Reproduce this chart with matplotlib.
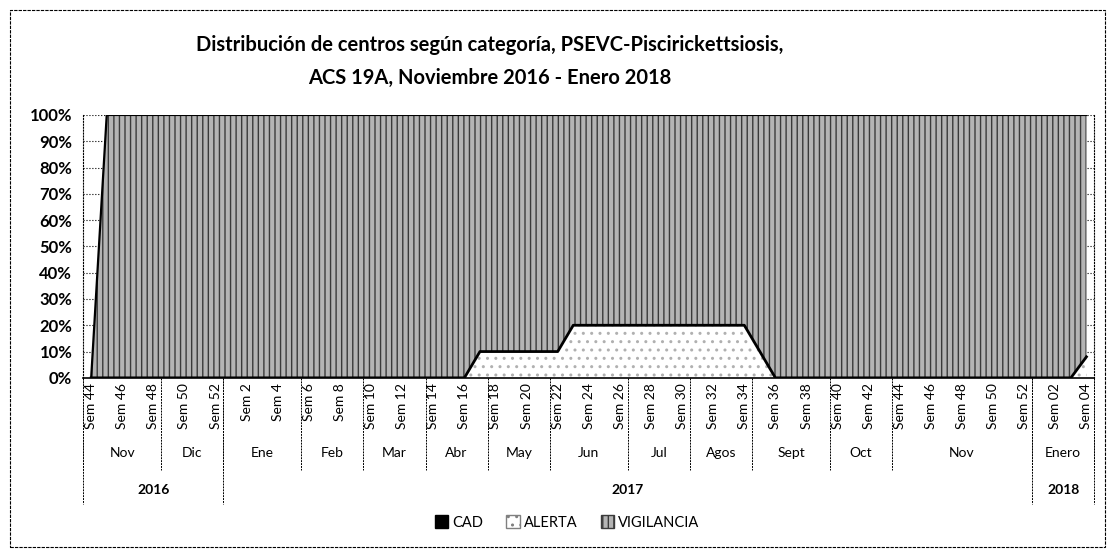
import matplotlib
matplotlib.use("Agg")
import numpy as np
import matplotlib.pyplot as plt
import matplotlib.patches as mpatches
from matplotlib.transforms import blended_transform_factory

plt.rcParams["font.family"] = ["Lato", "DejaVu Sans"]
plt.rcParams["hatch.linewidth"] = 1.0

# semanas (una categoria por semana, Sem 44 2016 .. Sem 04 2018)
weeks = [44, 45, 46, 47, 48, 49, 50, 51, 52,
         1, 2, 3, 4, 5, 6, 7, 8, 9, 10, 11, 12, 13, 14, 15, 16, 17, 18, 19, 20,
         21, 22, 23, 24, 25, 26, 27, 28, 29, 30, 31, 32, 33, 34, 35, 36, 37, 38,
         39, 40, 41, 42, 43, 44, 45, 46, 47, 48, 49, 50, 51, 52,
         1, 2, 3, 4]
week_labels = ["Sem 44", "", "Sem 46", "", "Sem 48", "", "Sem 50", "", "Sem 52",
               "", "Sem 2", "", "Sem 4", "", "Sem 6", "", "Sem 8", "", "Sem 10", "",
               "Sem 12", "", "Sem 14", "", "Sem 16", "", "Sem 18", "", "Sem 20", "",
               "Sem 22", "", "Sem 24", "", "Sem 26", "", "Sem 28", "", "Sem 30", "",
               "Sem 32", "", "Sem 34", "", "Sem 36", "", "Sem 38", "", "Sem 40", "",
               "Sem 42", "", "Sem 44", "", "Sem 46", "", "Sem 48", "", "Sem 50", "",
               "Sem 52", "", "Sem 02", "", "Sem 04"]

months = ["Nov", "Dic", "Ene", "Feb", "Mar", "Abr", "May", "Jun", "Jul",
          "Agos", "Sept", "Oct", "Nov", "Enero"]
month_len = [5, 4, 5, 4, 4, 4, 4, 5, 4, 4, 5, 4, 9, 4]
years = ["2016", "2017", "2018"]
year_len = [9, 52, 4]

# porcentajes por categoria
cad = [0, 0, 0, 0, 0, 0, 0, 0, 0,
       0, 0, 0, 0, 0, 0, 0, 0, 0, 0, 0, 0, 0, 0, 0, 0,
       0, 0, 0, 0, 0, 0,
       0, 0, 0, 0, 0, 0, 0, 0, 0, 0, 0, 0,
       0,
       0, 0, 0, 0, 0, 0, 0, 0, 0, 0, 0, 0, 0, 0, 0, 0, 0,
       0, 0, 0, 0]
alerta = [0, 0, 0, 0, 0, 0, 0, 0, 0,
          0, 0, 0, 0, 0, 0, 0, 0, 0, 0, 0, 0, 0, 0, 0, 0,
          10, 10, 10, 10, 10, 10,
          20, 20, 20, 20, 20, 20, 20, 20, 20, 20, 20, 20,
          10,
          0, 0, 0, 0, 0, 0, 0, 0, 0, 0, 0, 0, 0, 0, 0, 0, 0,
          0, 0, 0, 8]
vigilancia = [0, 100, 100, 100, 100, 100, 100, 100, 100,
              100, 100, 100, 100, 100, 100, 100, 100, 100, 100, 100, 100, 100, 100, 100, 100,
              90, 90, 90, 90, 90, 90,
              80, 80, 80, 80, 80, 80, 80, 80, 80, 80, 80, 80,
              90,
              100, 100, 100, 100, 100, 100, 100, 100, 100, 100, 100, 100, 100, 100, 100, 100, 100,
              100, 100, 100, 92]

x = np.arange(len(weeks))
top1 = np.array(cad, dtype=float)
top2 = top1 + np.array(alerta)
top3 = top2 + np.array(vigilancia)

fig = plt.figure(figsize=(11.12, 5.5), dpi=100)
ax = fig.add_axes([0.075, 0.313, 0.909, 0.478])

ax.fill_between(x, 0, top1, facecolor="black", edgecolor="black", lw=0, zorder=2)
ax.fill_between(x, top1, top2, facecolor="white", hatch="..", edgecolor="#b0b0b0",
                lw=0, zorder=2)
ax.fill_between(x, top2, top3, facecolor="#b4b4b4", hatch="|||", edgecolor="#3a3a3a",
                lw=0, zorder=2)
ax.plot(x, top2, color="black", lw=2, zorder=3)
ax.plot(x, top3, color="black", lw=1.6, zorder=3)

ax.set_xlim(-0.5, len(weeks) - 0.5)
ax.set_ylim(0, 100)
ax.set_yticks(np.arange(0, 101, 10))
ax.set_yticklabels([f"{v}%" for v in range(0, 101, 10)], fontsize=12, fontweight="bold")
ax.yaxis.grid(True, color="black", linestyle=":", lw=0.8)
ax.set_axisbelow(True)
ax.tick_params(axis="y", length=0, pad=8)

ax.set_xticks(x)
ax.set_xticklabels(week_labels, rotation=90, fontsize=10, va="top")
ax.tick_params(axis="x", length=0, pad=4)

ax.spines["top"].set_visible(False)
for s in ["left", "right"]:
    ax.spines[s].set_linestyle(":")
    ax.spines[s].set_linewidth(0.8)
ax.spines["bottom"].set_linewidth(1.2)

trans = blended_transform_factory(ax.transData, ax.transAxes)

# separadores y etiquetas de mes
pos = -0.5
ax.plot([pos, pos], [0, -0.35], transform=trans, color="black", lw=0.7,
        ls=(0, (2, 1)), clip_on=False)
for name, n in zip(months, month_len):
    ax.text(pos + n / 2, -0.285, name, transform=trans, ha="center", va="center",
            fontsize=10)
    pos += n
    ax.plot([pos, pos], [0, -0.35], transform=trans, color="black", lw=0.7,
            ls=(0, (2, 1)), clip_on=False)

# separadores y etiquetas de año
pos = -0.5
ax.plot([pos, pos], [0, -0.48], transform=trans, color="black", lw=0.7,
        ls=(0, (2, 1)), clip_on=False)
for name, n in zip(years, year_len):
    ax.text(pos + n / 2, -0.425, name, transform=trans, ha="center", va="center",
            fontsize=10, fontweight="bold")
    pos += n
    ax.plot([pos, pos], [0, -0.48], transform=trans, color="black", lw=0.7,
            ls=(0, (2, 1)), clip_on=False)

fig.text(0.44, 0.918, "Distribución de centros según categoría, PSEVC-Piscirickettsiosis,",
         ha="center", va="center", fontsize=14.5, fontweight="bold")
fig.text(0.44, 0.858, "ACS 19A, Noviembre 2016 - Enero 2018",
         ha="center", va="center", fontsize=14.5, fontweight="bold")

handles = [
    mpatches.Patch(facecolor="black", edgecolor="black", label="CAD"),
    mpatches.Patch(facecolor="white", edgecolor="#808080", hatch="..", label="ALERTA"),
    mpatches.Patch(facecolor="#b4b4b4", edgecolor="#3a3a3a", hatch="|||", label="VIGILANCIA"),
]
fig.legend(handles=handles, loc="center", bbox_to_anchor=(0.51, 0.05), ncol=3,
           frameon=False, fontsize=10.5, handlelength=0.9, handleheight=0.9,
           handletextpad=0.3, columnspacing=1.6)

fig.patches.append(mpatches.Rectangle((0.009, 0.006), 0.985, 0.976, transform=fig.transFigure,
                                      fill=False, edgecolor="black", lw=0.8, ls=(0, (3, 1))))

fig.savefig("out.png", dpi=100)
